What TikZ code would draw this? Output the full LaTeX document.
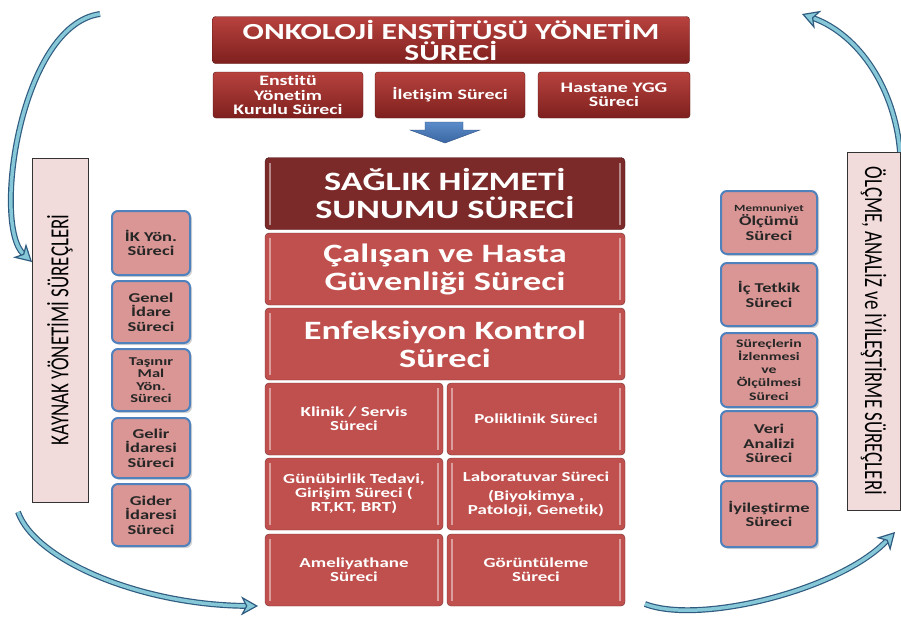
\documentclass[tikz,border=0pt]{standalone}
\usepackage{fontspec}
\setmainfont{Carlito}[Ligatures=NoCommon]
\newfontfamily\widefont{Carlito}[FakeStretch=1.37, Ligatures=NoCommon]
\newfontfamily\tallfont{Carlito}[FakeStretch=0.73, Ligatures=NoCommon]
\usetikzlibrary{arrows.meta}
\usetikzlibrary{shadows}
\definecolor{titletop}{HTML}{B8423E}
\definecolor{titledark}{HTML}{7E201E}
\definecolor{darkred}{HTML}{7B2929}
\definecolor{midred}{HTML}{C0504D}
\definecolor{pinkbox}{HTML}{D99694}
\definecolor{labelpink}{HTML}{F2DCDB}
\definecolor{glowblue}{HTML}{4F81BD}
\definecolor{cycledark}{HTML}{2E5B7F}
\definecolor{cyclelight}{HTML}{86C8D8}
\definecolor{arrowtop}{HTML}{5B8BC9}
\definecolor{arrowbot}{HTML}{3A67A3}

\begin{document}
\begin{tikzpicture}[x=1pt, y=-1pt,
    bevel/.style={path picture={
        \draw[white, opacity=.45, line width=1.5pt]
          ([xshift=5pt,yshift=-5pt]path picture bounding box.north west) -- ([xshift=5pt,yshift=5pt]path picture bounding box.south west)
          ([xshift=-5pt,yshift=-5pt]path picture bounding box.north east) -- ([xshift=-5pt,yshift=5pt]path picture bounding box.south east);}},
    onkbox/.style={draw=titledark!70!black, top color=titletop, bottom color=titledark, rounded corners=3pt,
        text=white, align=center, inner sep=0pt, font=\widefont\bfseries},
    mainbox/.style={bevel, draw=#1!60!black, fill=#1, rounded corners=4pt, text=white, align=center,
        inner sep=0pt, minimum width=360pt, minimum height=72pt,
        font=\widefont\bfseries\fontsize{26.5}{28}\selectfont},
    gridbox/.style={bevel, draw=midred!60!black, fill=midred, rounded corners=4pt, text=white, align=center,
        inner sep=0pt, minimum width=178pt, minimum height=72pt,
        font=\widefont\bfseries\fontsize{13.8}{14}\selectfont},
    sidebox/.style={draw=glowblue, line width=2pt, fill=pinkbox, rounded corners=6pt, align=center,
        text=black!85, inner sep=0pt, font=\widefont\bfseries\fontsize{13.5}{14.5}\selectfont,
        drop shadow={opacity=.35, shadow xshift=2pt, shadow yshift=-2pt}},
    labelbox/.style={draw=black!80, line width=.8pt, fill=labelpink, inner sep=0pt,
        font=\tallfont\fontsize{26}{26}\selectfont},
    cycle/.style={draw=cycledark, double=cyclelight, double distance=3.5pt, line width=1.2pt,
        -{Stealth[length=17pt, width=19pt, inset=5pt, fill=cyclelight]}}]

    \useasboundingbox (0,0) rectangle (901,616);

    \node[onkbox, minimum width=477pt, minimum height=47pt, font=\widefont\bfseries\fontsize{23}{21}\selectfont]
        (onk) at (451,40) {ONKOLOJİ ENSTİTÜSÜ YÖNETİM\\SÜRECİ};
    \node[onkbox, minimum width=150pt, minimum height=46pt, font=\widefont\bfseries\fontsize{14.5}{14.5}\selectfont]
        (eyk) at (288,95) {Enstitü\\Yönetim\\Kurulu Süreci};
    \node[onkbox, minimum width=150pt, minimum height=46pt, font=\widefont\bfseries\fontsize{14.5}{14.5}\selectfont]
        (ilt) at (450,95) {İletişim Süreci};
    \node[onkbox, minimum width=152pt, minimum height=46pt, font=\widefont\bfseries\fontsize{14.5}{14.5}\selectfont]
        (ygg) at (614,95) {Hastane YGG\\Süreci};

    \shade[top color=arrowtop, bottom color=arrowbot, draw=arrowbot!80!black]
        (425,122) -- (463,122) -- (463,130) -- (480,130) -- (445,143) -- (410,130) -- (425,130) -- cycle;

    \node[mainbox=darkred] (shs) at (445,193.5) {SAĞLIK HİZMETİ\\SUNUMU SÜRECİ};
    \node[mainbox=midred] (chg) at (445,269) {Çalışan ve Hasta\\Güvenliği Süreci};
    \node[mainbox=midred] (enf) at (445,344) {Enfeksiyon Kontrol\\Süreci};

    \node[gridbox] (kls) at (354,419) {Klinik / Servis\\Süreci};
    \node[gridbox] (pol) at (536,419) {Poliklinik Süreci};
    \node[gridbox] (gun) at (354,494) {Günübirlik Tedavi,\\Girişim Süreci (\\RT,KT, BRT)};
    \node[gridbox] (lab) at (536,494) {Laboratuvar Süreci\\[5pt](Biyokimya ,\\Patoloji, Genetik)};
    \node[gridbox] (ame) at (354,570) {Ameliyathane\\Süreci};
    \node[gridbox] (gor) at (536,570) {Görüntüleme\\Süreci};

    \node[labelbox, rotate=90, minimum width=344pt, minimum height=56pt] (kay) at (60,330) {KAYNAK YÖNETİMİ SÜREÇLERİ};
    \node[sidebox, minimum width=78pt, minimum height=64pt] (ik) at (151,243) {İK Yön.\\Süreci};
    \node[sidebox, minimum width=78pt, minimum height=62pt] (gen) at (151,312) {Genel\\İdare\\Süreci};
    \node[sidebox, minimum width=78pt, minimum height=62pt, font=\widefont\bfseries\fontsize{12}{12.5}\selectfont]
        (tas) at (151,380) {Taşınır\\Mal\\Yön.\\Süreci};
    \node[sidebox, minimum width=78pt, minimum height=60pt] (gel) at (151,448) {Gelir\\İdaresi\\Süreci};
    \node[sidebox, minimum width=78pt, minimum height=62pt] (gid) at (151,515) {Gider\\İdaresi\\Süreci};

    \node[labelbox, rotate=-90, minimum width=358pt, minimum height=53pt] (olc) at (873.5,331) {ÖLÇME, ANALİZ ve İYİLEŞTİRME SÜREÇLERİ};
    \node[sidebox, minimum width=96pt, minimum height=63pt] (mem) at (769,222.5)
        {{\fontsize{9.5}{10}\selectfont Memnuniyet}\\Ölçümü\\Süreci};
    \node[sidebox, minimum width=96pt, minimum height=63pt] (ict) at (769,294.5) {İç Tetkik\\Süreci};
    \node[sidebox, minimum width=96pt, minimum height=74pt, font=\widefont\bfseries\fontsize{11.5}{13}\selectfont]
        (siz) at (769,370) {Süreçlerin\\İzlenmesi\\ve\\Ölçülmesi\\Süreci};
    \node[sidebox, minimum width=96pt, minimum height=65pt] (ver) at (769,443.5) {Veri\\Analizi\\Süreci};
    \node[sidebox, minimum width=96pt, minimum height=66pt] (iyi) at (769,514) {İyileştirme\\Süreci};

    \coordinate (k1) at (100,14);
    \coordinate (k2) at (32,262);
    \coordinate (g1) at (18,512);
    \coordinate (g2) at (258,606);
    \coordinate (o1) at (645,604);
    \coordinate (o2) at (895,532);
    \coordinate (y1) at (900,152);
    \coordinate (y2) at (802,14);

    \draw[cycle] (k1) .. controls (20,25) and (-8,225) .. (k2);
    \draw[cycle] (g1) .. controls (35,560) and (140,605) .. (g2);
    \draw[cycle] (o1) .. controls (700,625) and (840,590) .. (o2);
    \draw[cycle] (y1) .. controls (895,90) and (860,35) .. (y2);
\end{tikzpicture}
\end{document}
